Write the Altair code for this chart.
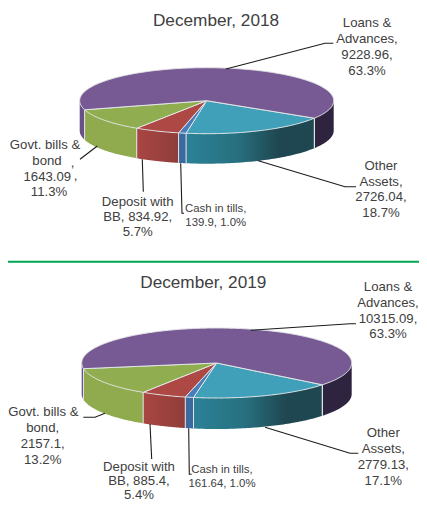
import numpy as np
import pandas as pd
import altair as alt

# ---- data (clockwise from the Other/Loans boundary)
CATEGORIES = ["Other Assets", "Cash in tills", "Deposit with BB", "Govt. bills & bond", "Loans & Advances"]
VALUES_2018 = [2726.04, 139.9, 834.92, 1643.09, 9228.96]
VALUES_2019 = [2779.13, 161.64, 885.4, 2157.1, 10315.09]
TITLES = ["December, 2018", "December, 2019"]

LABELS_2018 = [
    ["Other", "Assets,", "2726.04,", "18.7%"],
    ["Cash in tills,", "139.9, 1.0%"],
    ["Deposit with", "BB, 834.92,", "5.7%"],
    ["Govt. bills &", "bond", "1643.09", "11.3%"],
    ["Loans &", "Advances,", "9228.96,", "63.3%"],
]
LABELS_2019 = [
    ["Other", "Assets,", "2779.13,", "17.1%"],
    ["Cash in tills,", "161.64, 1.0%"],
    ["Deposit with", "BB, 885.4,", "5.4%"],
    ["Govt. bills &", "bond,", "2157.1,", "13.2%"],
    ["Loans &", "Advances,", "10315.09,", "63.3%"],
]

# ---- styles / layout
W, H = 419, 502
TOPS = ["#40a0b9", "#4a7ebb", "#ae4845", "#90ad50", "#775a93"]
WALL_STOPS = [
    [("#2b8297", 0.0), ("#27707f", 0.4), ("#1f4751", 0.72), ("#1f4751", 1.0)],
    [("#3a6a9e", 0.0), ("#3a6a9e", 1.0)],
    [("#a94643", 0.0), ("#8f3d3a", 1.0)],
    [("#8fab4e", 0.0), ("#8fab4e", 1.0)],
    [("#2f2440", 0.0), ("#2f2440", 1.0)],
]
LEFT_PURPLE = "#6a4f89"
EDGE = "#e2e6e6"
INK = "#404040"
LEADER = "#1c1c1c"

xs = alt.Scale(domain=[8, W], nice=False, zero=False)
ys = alt.Scale(domain=[8, H], nice=False, zero=False, reverse=True)
X = alt.X("x:Q", scale=xs, axis=None)
Y = alt.Y("y:Q", scale=ys, axis=None)


def gradient(stops):
    return alt.Gradient(
        gradient="linear",
        stops=[alt.GradientStop(color=c, offset=o) for c, o in stops],
        x1=0, x2=1, y1=0, y2=0,
    )


def pie_layers(values, cx, cy, rx, ry, depth, start):
    layers = []
    total = sum(values)
    a = start
    edges = []
    for k, v in enumerate(values):
        b = a + v / total * 360
        # walls: visible where sin(angle) >= 0
        for lo, hi in [(a, min(b, 180)), (max(a, 360), min(b, 540))]:
            if hi <= lo:
                continue
            t = np.radians(np.linspace(lo, hi, 60))
            xv = cx + rx * np.cos(t)
            yv = cy + ry * np.abs(np.sin(t))
            df = pd.DataFrame({"x": xv, "y": yv, "y2": yv + depth})
            stops = WALL_STOPS[k]
            if k == 4 and lo < 180:
                stops = [(LEFT_PURPLE, 0.0), (LEFT_PURPLE, 1.0)]
            layers.append(
                alt.Chart(df).mark_area(color=gradient(stops), interpolate="linear")
                .encode(x=X, y=Y, y2=alt.Y2("y2:Q"))
            )
            edges.append(lo)
            edges.append(hi)
        a = b
    # wall dividers
    ed = sorted(set(round(e, 4) for e in edges if 0 < (e % 360) < 180))
    tt = np.radians(ed)
    yy = cy + ry * np.sin(tt)
    layers.append(
        alt.Chart(pd.DataFrame({"x": cx + rx * np.cos(tt), "y": yy, "y2": yy + depth}))
        .mark_rule(color=EDGE, strokeWidth=1)
        .encode(x=X, y=Y, y2=alt.Y2("y2:Q"))
    )
    # top wedges
    a = start
    for k, v in enumerate(values):
        b = a + v / total * 360
        t = np.radians(np.linspace(a, b, max(8, int((b - a) * 2))))
        xv = np.r_[cx, cx + rx * np.cos(t), cx]
        yv = np.r_[cy, cy + ry * np.sin(t), cy]
        df = pd.DataFrame({"x": xv, "y": yv, "i": np.arange(len(xv))})
        layers.append(
            alt.Chart(df).mark_line(fill=TOPS[k], stroke=EDGE, strokeWidth=1, interpolate="linear")
            .encode(x=X, y=Y, order=alt.Order("i:Q"))
        )
        a = b
    return layers


def text_rows(lines, xc, y0, lh):
    return [{"x": xc, "y": y0 + i * lh, "t": s} for i, s in enumerate(lines)]


def text_layer(rows, size, color=INK):
    return alt.Chart(pd.DataFrame(rows)).mark_text(
        font="Liberation Sans", fontSize=size, color=color, align="center", baseline="middle"
    ).encode(x=X, y=Y, text="t:N")


def leader(points):
    df = pd.DataFrame(points, columns=["x", "y"])
    df["i"] = range(len(df))
    return alt.Chart(df).mark_line(color=LEADER, strokeWidth=1.1).encode(x=X, y=Y, order=alt.Order("i:Q"))


layers = []
layers += pie_layers(VALUES_2018, 206.7, 100.7, 127, 33, 30, 32)
layers += pie_layers(VALUES_2019, 216.7, 363, 135, 35, 31, 38.5)

# leaders
for pts in [
    [(226, 69), (325, 43.3), (333.3, 43.3)],
    [(258.3, 160.7), (345, 186.7), (356, 186.7)],
    [(97.3, 146), (80, 159.3)],
    [(142.3, 159.3), (143.3, 191.7)],
    [(180.7, 163.3), (182, 213.3), (184, 213.3)],
    [(250.7, 330.3), (350, 323.8), (356, 323.8)],
    [(265, 427.3), (350, 453.3), (358.3, 453.3)],
    [(105, 413.3), (95, 417.3), (83.3, 417.3)],
    [(150, 424), (151.7, 459)],
    [(188.7, 428.3), (189.3, 474.3), (191.7, 474.3)],
]:
    layers.append(leader(pts))

# separator
layers.append(
    alt.Chart(pd.DataFrame({"x": [8], "x2": [W], "y": [261.7]}))
    .mark_rule(color="#00a651", strokeWidth=2)
    .encode(x=X, x2=alt.X2("x2:Q"), y=Y)
)

# titles
layers.append(text_layer([{"x": 216, "y": 21, "t": TITLES[0]}, {"x": 203.3, "y": 283.3, "t": TITLES[1]}], 17.2))

# labels
rows13 = []
rows13 += text_rows(LABELS_2018[4], 367, 23.3, 15.8)
rows13 += text_rows(LABELS_2018[0], 381, 166, 15.7)
rows13 += text_rows(LABELS_2018[2], 137.7, 202, 15.2)
rows13 += [
    {"x": 45, "y": 145.3, "t": LABELS_2018[3][0]},
    {"x": 47, "y": 160.7, "t": LABELS_2018[3][1]},
    {"x": 47.3, "y": 176.7, "t": LABELS_2018[3][2]},
    {"x": 49, "y": 191.7, "t": LABELS_2018[3][3]},
    {"x": 72.5, "y": 163, "t": ","},
    {"x": 75.5, "y": 176, "t": ","},
]
rows13 += text_rows(LABELS_2019[4], 388, 287.3, 15.7)
rows13 += text_rows(LABELS_2019[0], 383.3, 433.3, 15.8)
rows13 += text_rows(LABELS_2019[2], 139, 466.5, 14)
rows13 += [{"x": 43.3, "y": 412.3, "t": LABELS_2019[3][0]}]
rows13 += text_rows(LABELS_2019[3][1:], 42.7, 428.3, 15.6)
layers.append(text_layer(rows13, 13.2))

rows11 = text_rows(LABELS_2018[1], 215.7, 209, 14.3) + text_rows(LABELS_2019[1], 222, 470.3, 13.4)
layers.append(text_layer(rows11, 11.4))

chart = (
    alt.layer(*layers)
    .properties(width=W - 8, height=H - 8, padding=0, autosize=alt.AutoSizeParams(type="none"), background="white")
    .configure_view(stroke=None)
)
chart.save("out.html", embed_options={"renderer": "svg", "actions": False})
